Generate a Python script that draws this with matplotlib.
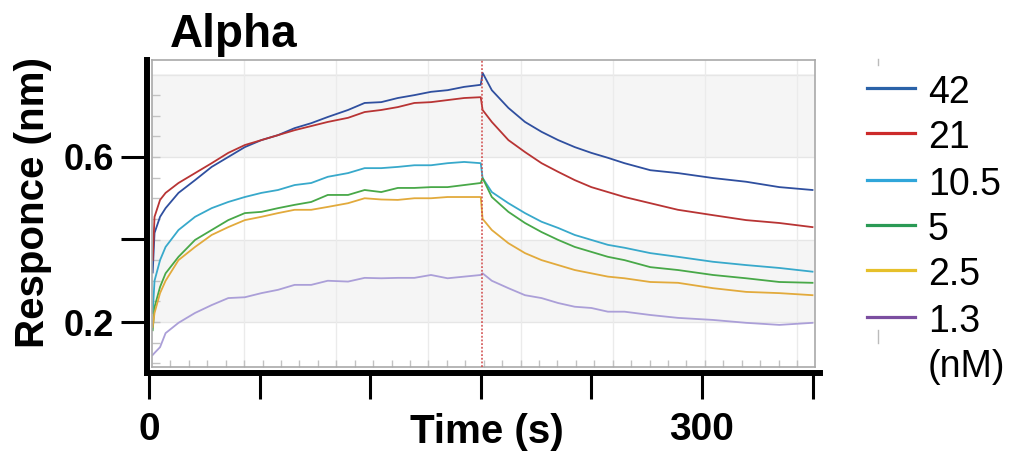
import matplotlib
matplotlib.use('Agg')
import matplotlib.pyplot as plt
from matplotlib.lines import Line2D
from matplotlib.transforms import Affine2D

plt.rcParams['font.family'] = ['Liberation Sans', 'DejaVu Sans']

# ---------------- data ----------------
time_assoc = [2, 3, 6, 9, 16, 25, 34, 43, 52, 61, 70, 79, 88, 97, 108, 117,
              126, 135, 144, 153, 162, 171, 180]
time_dissoc = [181, 186, 195, 204, 213, 222, 231, 240, 249, 258, 272, 287,
               306, 324, 342, 360]
time_s = time_assoc + time_dissoc

concentrations = ['42', '21', '10.5', '5', '2.5', '1.3']
unit_label = '(nM)'

resp_42 = [0.32, 0.416, 0.455, 0.476, 0.513, 0.544, 0.576, 0.60, 0.624, 0.641,
           0.653, 0.670, 0.682, 0.697, 0.714, 0.731, 0.733, 0.743, 0.750, 0.758,
           0.762, 0.770, 0.775,
           0.804, 0.762, 0.719, 0.685, 0.661, 0.641, 0.624, 0.610, 0.598, 0.585,
           0.568, 0.561, 0.549, 0.540, 0.527, 0.520]
resp_21 = [0.35, 0.455, 0.496, 0.513, 0.537, 0.561, 0.585, 0.610, 0.629, 0.641,
           0.653, 0.665, 0.675, 0.685, 0.695, 0.709, 0.714, 0.721, 0.731, 0.733,
           0.738, 0.743, 0.745,
           0.714, 0.685, 0.641, 0.612, 0.585, 0.564, 0.544, 0.527, 0.515, 0.503,
           0.488, 0.472, 0.459, 0.447, 0.440, 0.430]
resp_10_5 = [0.222, 0.30, 0.35, 0.382, 0.423, 0.455, 0.476, 0.491, 0.503, 0.513,
             0.520, 0.532, 0.537, 0.552, 0.561, 0.573, 0.573, 0.576, 0.580, 0.580,
             0.585, 0.588, 0.585,
             0.549, 0.515, 0.488, 0.464, 0.443, 0.428, 0.411, 0.399, 0.387, 0.380,
             0.367, 0.358, 0.346, 0.338, 0.331, 0.322]
resp_5 = [0.18, 0.236, 0.285, 0.318, 0.358, 0.399, 0.423, 0.447, 0.464, 0.467,
          0.476, 0.484, 0.491, 0.508, 0.508, 0.520, 0.515, 0.525, 0.525, 0.527,
          0.527, 0.532, 0.537,
          0.549, 0.503, 0.467, 0.440, 0.418, 0.399, 0.382, 0.370, 0.358, 0.350,
          0.333, 0.326, 0.314, 0.306, 0.297, 0.295]
resp_2_5 = [0.188, 0.222, 0.27, 0.30, 0.35, 0.382, 0.411, 0.430, 0.447, 0.455,
            0.464, 0.472, 0.472, 0.479, 0.488, 0.500, 0.497, 0.496, 0.500, 0.500,
            0.503, 0.503, 0.503,
            0.450, 0.423, 0.391, 0.367, 0.350, 0.338, 0.326, 0.318, 0.310, 0.306,
            0.297, 0.295, 0.282, 0.273, 0.270, 0.265]
resp_1_3 = [0.12, 0.125, 0.139, 0.173, 0.198, 0.222, 0.241, 0.258, 0.260, 0.270,
            0.278, 0.290, 0.290, 0.300, 0.298, 0.307, 0.306, 0.307, 0.307, 0.314,
            0.306, 0.310, 0.314,
            0.318, 0.300, 0.282, 0.265, 0.258, 0.246, 0.237, 0.234, 0.225, 0.225,
            0.217, 0.210, 0.205, 0.198, 0.193, 0.198]
responses = [resp_42, resp_21, resp_10_5, resp_5, resp_2_5, resp_1_3]

line_colors = ['#2f4f9f', '#b83434', '#38a9cb', '#48a848', '#e2aa3c', '#ab9fd8']
legend_colors = ['#2a62a8', '#cc2a2a', '#30a6da', '#2a9a55', '#e6c02a', '#7b4ea0']

x_ticks = [0, 60, 120, 180, 240, 300, 360]
x_tick_labels = ['0', '', '', '', '', '300', '']
y_ticks = [0.2, 0.4, 0.6]
y_tick_labels = ['0.2', '', '0.6']
switch_time = 180.6

# ---------------- layout helpers (pixel geometry) ----------------
W, H = 1009, 451
fig = plt.figure(figsize=(W / 100, H / 100), dpi=100)
PX = Affine2D().scale(1.0 / W, -1.0 / H).translate(0, 1) + fig.transFigure

X0, X360 = 149.0, 812.5
def t_at(px):
    return (px - X0) * 360.0 / (X360 - X0)
def v_at(py):
    return 0.6 - (py - 157.0) * 0.2 / 82.5

def box(l, t, r, b):
    return [l / W, (H - b) / H, (r - l) / W, (b - t) / H]

# ---------------- outer axis (thick black) ----------------
ax_out = fig.add_axes(box(147, 60, 820, 373))
ax_out.set_xlim(t_at(147), t_at(820))
ax_out.set_ylim(v_at(373), v_at(60))
ax_out.patch.set_alpha(0)
for s in ['top', 'right']:
    ax_out.spines[s].set_visible(False)
for s in ['left', 'bottom']:
    ax_out.spines[s].set_linewidth(4.3)
    ax_out.spines[s].set_color('black')
ax_out.set_xticks(x_ticks)
ax_out.set_xticklabels(x_tick_labels, fontsize=28, fontweight='bold')
ax_out.set_yticks(y_ticks)
ax_out.set_yticklabels(y_tick_labels, fontsize=26, fontweight='bold')
ax_out.tick_params(axis='x', length=19, width=2.2, pad=9)
ax_out.tick_params(axis='y', length=19, width=2.2, pad=5)

# ---------------- inner plot (instrument-style panel) ----------------
ax = fig.add_axes(box(152, 60, 815, 367))
ax.set_xlim(t_at(152), t_at(815))
ax.set_ylim(v_at(367), v_at(60))
ax.set_facecolor('white')
for s in ax.spines.values():
    s.set_color('#a9a9a9')
    s.set_linewidth(1.2)
ax.axhspan(0.2, 0.4, color='#f5f5f5', lw=0, zorder=0)
ax.axhspan(0.6, 0.8, color='#f5f5f5', lw=0, zorder=0)
for yv in [0.2, 0.4, 0.6, 0.8]:
    ax.axhline(yv, color='#e6e6e6', lw=1.0, zorder=0.5)
for k in range(1, 8):
    ax.axvline(1.6 + 50 * k, color='#ebebeb', lw=1.0, zorder=0.5)
ax.set_xticks([])
ax.set_yticks([])
ax.set_xticks([1.6 + 10 * k for k in range(1, 36)], minor=True)
ax.set_yticks([0.1 + 0.05 * k for k in range(0, 14)], minor=True)
ax.tick_params(which='minor', direction='in', color='#c2c2c2', width=1.0,
               labelbottom=False, labelleft=False)
ax.tick_params(axis='x', which='minor', length=5)
ax.tick_params(axis='y', which='minor', length=6)

ax.axvline(switch_time, color='#d04848', lw=1.1, ls=(0, (1.2, 1.2)), zorder=3)
for resp, col in zip(responses, line_colors):
    ax.plot(time_s, resp, color=col, lw=1.3, zorder=2)

# ---------------- texts ----------------
fig.text(234, 47, 'Alpha', transform=PX, ha='center', va='baseline',
         fontsize=33, fontweight='bold')
fig.text(33, 202, 'Responce (nm)', transform=PX, ha='center', va='center',
         rotation=90, fontsize=29, fontweight='bold')
fig.text(487, 443, 'Time (s)', transform=PX, ha='center', va='baseline',
         fontsize=29, fontweight='bold')

# ---------------- legend ----------------
row_y = [88, 133, 180, 225, 270, 317]
for lab, col, yy in zip(concentrations, legend_colors, row_y):
    fig.add_artist(Line2D([867, 915], [yy, yy], transform=PX, color=col, lw=2.3))
    fig.text(928, yy + 15, lab, transform=PX, ha='left', va='baseline', fontsize=27)
fig.text(928, 377, unit_label, transform=PX, ha='left', va='baseline', fontsize=27)
fig.add_artist(Line2D([878, 878], [59, 65], transform=PX, color='#bbbbbb', lw=1))
fig.add_artist(Line2D([878, 878], [330, 343], transform=PX, color='#bbbbbb', lw=1))

fig.savefig('out.png', dpi=100)
